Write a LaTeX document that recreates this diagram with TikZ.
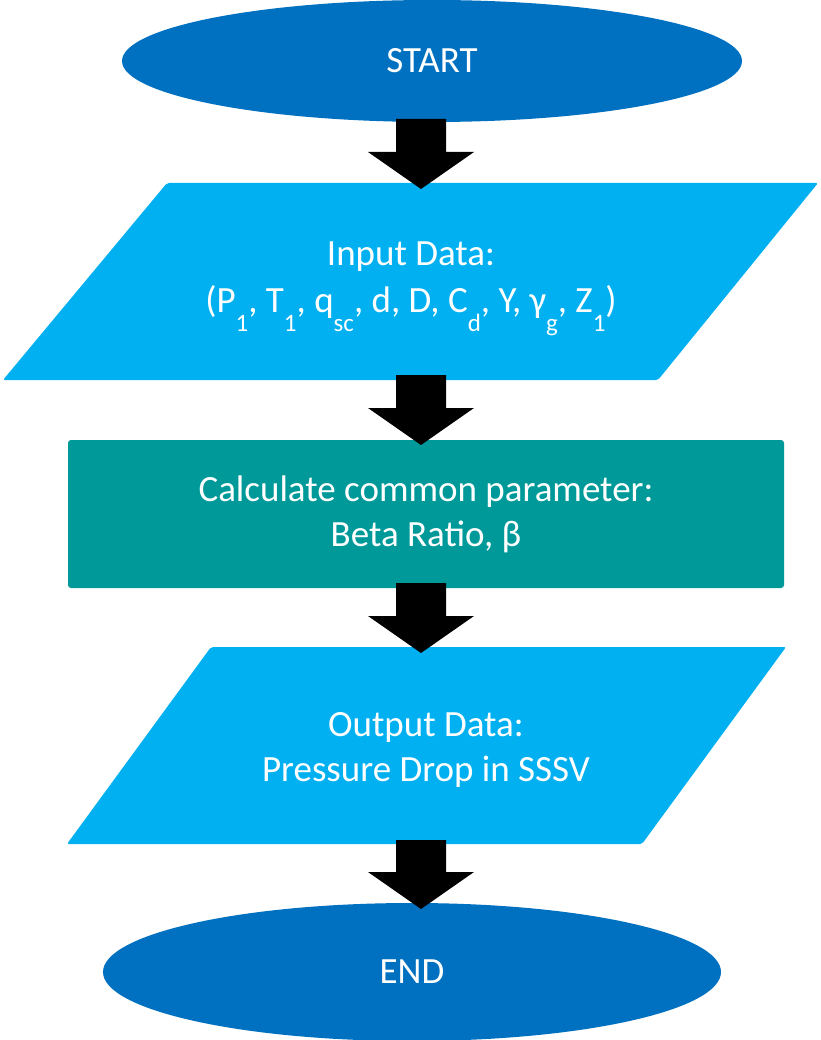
\documentclass[tikz,border=0pt]{standalone}
\usepackage{fontspec}
\setmainfont{Carlito}
\usetikzlibrary{shapes.geometric,calc}
\definecolor{termblue}{RGB}{0,112,192}
\definecolor{iolight}{RGB}{0,176,240}
\definecolor{procteal}{RGB}{0,153,153}
\newcommand\sbs[1]{\raisebox{-19pt}{\fontsize{25}{25}\selectfont #1}}
\newcommand\blockarrow[2]{\fill[black] ($(#1)+(-25,0)$) -- ($(#1)+(25,0)$) -- ($(#2)+(25,-37)$) -- ($(#2)+(53,-37)$) -- (#2) -- ($(#2)+(-53,-37)$) -- ($(#2)+(-25,-37)$) -- cycle;}
\tikzset{
  txt/.style={text=white, font=\fontsize{37}{45}\selectfont, align=center, inner sep=0pt},
  terminal/.style={txt, shape=ellipse, fill=termblue, inner sep=0pt},
  process/.style={txt, shape=rectangle, fill=procteal, rounded corners=3pt},
  iofill/.style={fill=iolight, rounded corners=2pt}
}
\begin{document}
\begin{tikzpicture}[x=1pt,y=-1pt]
\useasboundingbox (0,0) rectangle (820,1040);
% START
\node[terminal, minimum width=620pt, minimum height=122pt] (start) at (432,61) {START};
% Input parallelogram
\fill[iofill] (167,183) -- (818,183) -- (658,380) -- (3,380) -- cycle;
\node[txt] (input) at (411,289) {Input Data:\\[2pt](P\sbs{1}, T\sbs{1}, q\sbs{sc}, d, D, C\sbs{d}, Y, γ\sbs{g}, Z\sbs{1})};
% Process
\node[process, minimum width=716pt, minimum height=148pt] (proc) at (426,514) {Calculate common parameter:\\Beta Ratio, β};
% Output parallelogram
\fill[iofill] (211,647) -- (786,647) -- (642,844) -- (67,844) -- cycle;
\node[txt] (output) at (426,750) {Output Data:\\Pressure Drop in SSSV};
% END
\node[terminal, minimum width=618pt, minimum height=138pt] (end) at (412,972) {END};
% arrows
\coordinate (a1s) at (421,119); \coordinate (a1e) at (421,189);
\coordinate (a2s) at (421,375); \coordinate (a2e) at (421,445);
\coordinate (a3s) at (421,583); \coordinate (a3e) at (421,653);
\coordinate (a4s) at (421,840); \coordinate (a4e) at (421,909);
\blockarrow{a1s}{a1e}
\blockarrow{a2s}{a2e}
\blockarrow{a3s}{a3e}
\blockarrow{a4s}{a4e}
\end{tikzpicture}
\end{document}
